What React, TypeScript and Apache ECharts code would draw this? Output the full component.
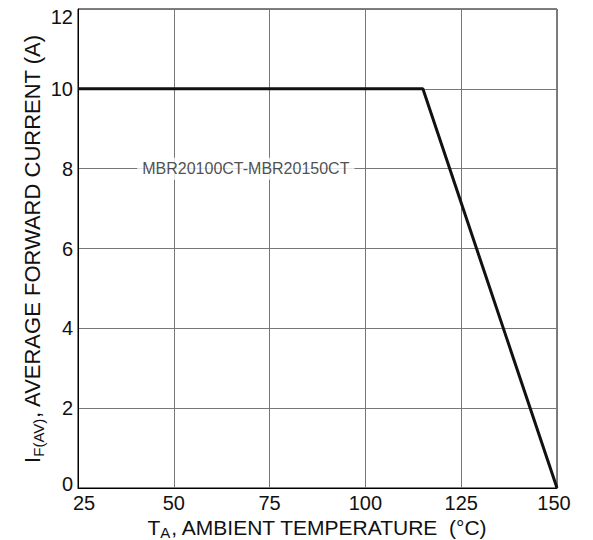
import React, { useEffect, useRef } from "react";
import * as echarts from "echarts";

const xTicks = [25, 50, 75, 100, 125, 150];
const yTicks = [0, 2, 4, 6, 8, 10, 12];
const deratingCurve: [number, number][] = [
  [25, 10],
  [115, 10],
  [150, 0],
];
const curveLabel = "MBR20100CT-MBR20150CT";
const curveLabelPos: [number, number] = [68.8, 8];

export default function App() {
  const ref = useRef<HTMLDivElement>(null);
  useEffect(() => {
    if (!ref.current) return;
    const chart = echarts.init(ref.current, null, { renderer: "svg" });
    const font = "'Liberation Sans', Arial, sans-serif";
    const tick = { color: "#111", fontSize: 20, fontFamily: font, lineHeight: 20 };
    chart.setOption({
      animation: false,
      backgroundColor: "#fff",
      grid: {
        left: 78,
        right: 36,
        top: 9,
        bottom: 52,
        show: true,
        borderColor: "#000",
        borderWidth: 1,
        containLabel: false,
        outerBoundsMode: "none",
      },
      xAxis: {
        type: "value",
        min: xTicks[0],
        max: xTicks[xTicks.length - 1],
        interval: 25,
        axisLine: { show: true, lineStyle: { color: "#000", width: 1 } },
        axisTick: { show: false },
        splitLine: { show: true, lineStyle: { color: "#777", width: 1 } },
        axisLabel: {
          ...tick,
          margin: 5,
          formatter: (v: number) =>
            v === xTicks[0] ? `{first|${v}}` : v === xTicks[xTicks.length - 1] ? `{last|${v}}` : `${v}`,
          rich: {
            first: { ...tick, padding: [0, 0, 0, 12] },
            last: { ...tick, padding: [0, 6, 0, 0] },
          },
        },
        name: "T{sub|A}, AMBIENT TEMPERATURE  (°C)",
        nameLocation: "middle",
        nameMoveOverlap: false,
        nameGap: 26,
        nameTextStyle: {
          color: "#111",
          fontSize: 21,
          fontFamily: font,
          lineHeight: 26,
          rich: {
            sub: { fontSize: 15, fontFamily: font, color: "#111", verticalAlign: "bottom", padding: [10, 0, 0, 0], lineHeight: 26 },
          },
        },
      },
      yAxis: {
        type: "value",
        min: yTicks[0],
        max: yTicks[yTicks.length - 1],
        interval: 2,
        axisLine: { show: true, lineStyle: { color: "#000", width: 1 } },
        axisTick: { show: false },
        splitLine: { show: true, lineStyle: { color: "#777", width: 1 } },
        axisLabel: {
          ...tick,
          margin: 5,
          formatter: (v: number) =>
            v === yTicks[0] ? `{first|${v}}` : v === yTicks[yTicks.length - 1] ? `{last|${v}}` : `${v}`,
          rich: {
            first: { ...tick, padding: [0, 0, 9, 0] },
            last: { ...tick, padding: [16, 0, 0, 0] },
          },
        },
        name: "I{sub|F(AV)}, AVERAGE FORWARD CURRENT (A)",
        nameLocation: "middle",
        nameMoveOverlap: false,
        nameGap: 32,
        nameTextStyle: {
          color: "#111",
          fontSize: 22,
          fontFamily: font,
          lineHeight: 28,
          rich: {
            sub: { fontSize: 15, fontFamily: font, color: "#111", verticalAlign: "bottom", padding: [10, 0, 0, 0], lineHeight: 28 },
          },
        },
      },
      series: [
        {
          type: "line",
          data: deratingCurve,
          symbol: "none",
          lineStyle: { color: "#111", width: 3 },
          z: 5,
        },
        {
          type: "scatter",
          data: [curveLabelPos],
          symbolSize: 0,
          z: 6,
          label: {
            show: true,
            position: "inside",
            formatter: curveLabel,
            color: "#222",
            fontSize: 16,
            fontFamily: font,
            backgroundColor: "#fff",
            padding: [3, 5],
          },
        },
      ],
    });
    return () => chart.dispose();
  }, []);
  return (
    <div
      ref={ref}
      style={{ position: "fixed", left: 0, top: 0, width: 593, height: 540 }}
    />
  );
}
